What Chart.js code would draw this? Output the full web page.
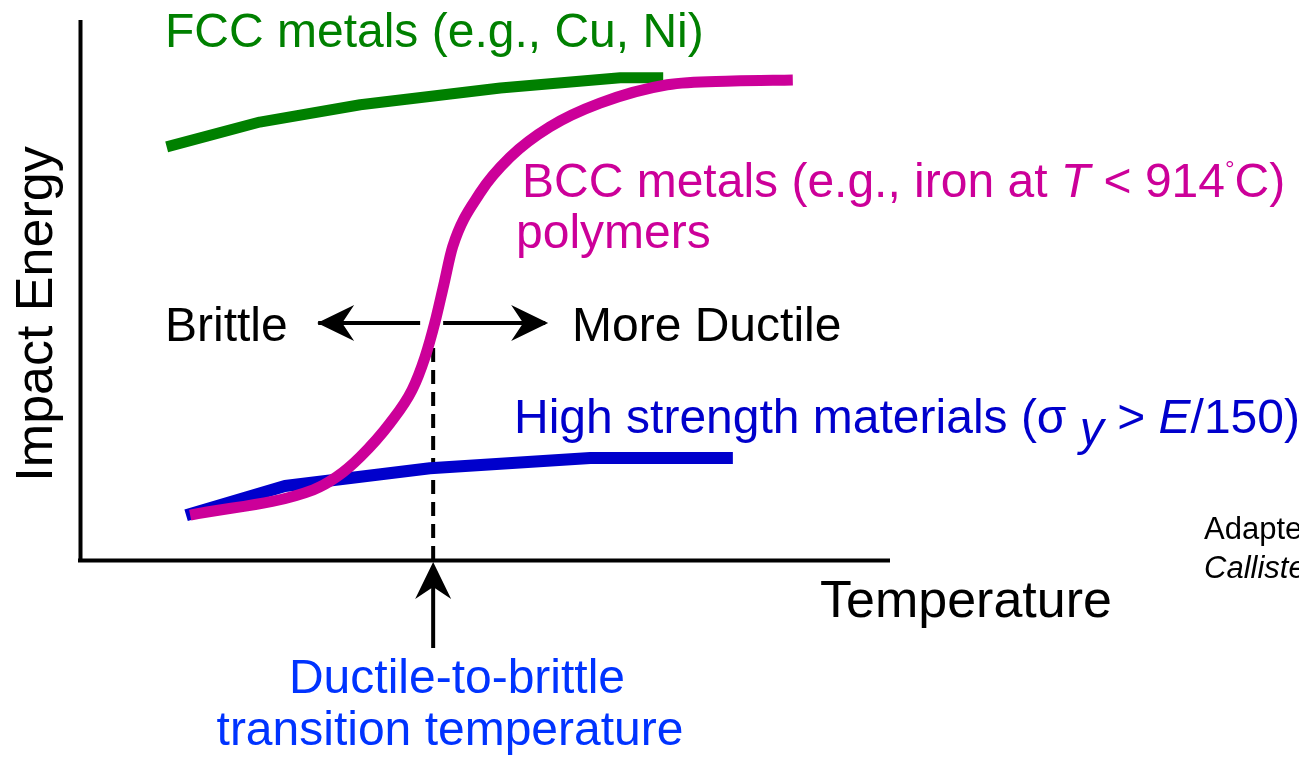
<!DOCTYPE html>
<html>
<head>
<meta charset="utf-8">
<script src="https://cdn.jsdelivr.net/npm/chart.js@4"></script>
<style>
  html, body { margin: 0; padding: 0; background: #fff; }
  #wrap { width: 1299px; height: 757px; }
</style>
</head>
<body>
<div id="wrap"><canvas id="dbtt-chart" width="1299" height="757"></canvas></div>
<script>
// Ductile-to-brittle transition sketch (arbitrary units, 0..100 on both axes)

// FCC metals curve
const fccTemp   = [10.7, 22.2, 34.6, 51.9, 66.7, 72.0];
const fccEnergy = [76.5, 81.1, 84.3, 87.4, 89.3, 89.3];

// BCC metals / polymers curve
const bccTemp   = [13.6, 28.8, 31.7, 34.6, 38.3, 41.0, 42.6, 43.8, 44.9, 46.0, 49.4, 53.1, 58.0, 64.2, 72.5, 80.6, 88.0];
const bccEnergy = [8.3, 13.0, 15.4, 19.1, 25.4, 31.5, 37.6, 43.9, 50.9, 58.0, 68.0, 74.6, 80.2, 84.6, 88.0, 88.7, 88.9];

// High strength materials curve
const hsTemp   = [13.1, 25.3, 43.2, 63.0, 80.6];
const hsEnergy = [8.3, 13.7, 17.0, 18.9, 18.9];

// transition temperature marker
const transitionTemp = 43.6;
const transitionEnergy = 43.9;

const FONT = '"Liberation Sans", Arial, Helvetica, sans-serif';

function toPoints(xs, ys) {
  return xs.map((x, i) => ({ x: x, y: ys[i] }));
}

// draws a run of text pieces (normal / italic / shifted)
function drawRuns(ctx, x, y, runs, color) {
  ctx.fillStyle = color;
  ctx.textBaseline = 'alphabetic';
  ctx.textAlign = 'left';
  for (let r of runs) {
    ctx.font = (r.italic ? 'italic ' : '') + (r.size || 48) + 'px ' + FONT;
    ctx.fillText(r.t, x, y + (r.dy || 0));
    x += ctx.measureText(r.t).width;
  }
}

// notched arrow head, tip at (tx,ty) pointing along angle
function arrowHead(ctx, tx, ty, angle) {
  ctx.save();
  ctx.translate(tx, ty);
  ctx.rotate(angle);
  ctx.beginPath();
  ctx.moveTo(0, 0);
  ctx.lineTo(-37, -18);
  ctx.lineTo(-25, 0);
  ctx.lineTo(-37, 18);
  ctx.closePath();
  ctx.fill();
  ctx.restore();
}

const sketchPlugin = {
  id: 'sketch',
  beforeDatasetsDraw(chart) {
    const ctx = chart.ctx;
    const a = chart.chartArea;
    ctx.save();
    ctx.strokeStyle = '#000';
    ctx.lineWidth = 4;
    ctx.beginPath();
    ctx.moveTo(a.left + 0.5, a.top);
    ctx.lineTo(a.left + 0.5, a.bottom + 2);
    ctx.moveTo(a.left - 2, a.bottom + 0.5);
    ctx.lineTo(a.right, a.bottom + 0.5);
    ctx.stroke();
    ctx.restore();
  },
  afterDatasetsDraw(chart) {
    const ctx = chart.ctx;
    const xs = chart.scales.x, ys = chart.scales.y;
    const tx = xs.getPixelForValue(transitionTemp);
    const ay = ys.getPixelForValue(transitionEnergy);
    const base = ys.getPixelForValue(0);
    ctx.save();
    ctx.fillStyle = '#000';
    ctx.strokeStyle = '#000';
    ctx.lineWidth = 4;

    // Brittle <-> More Ductile arrows
    ctx.beginPath();
    ctx.moveTo(tx - 115, ay); ctx.lineTo(tx - 13, ay);
    ctx.moveTo(tx + 10, ay); ctx.lineTo(tx + 112, ay);
    ctx.stroke();
    arrowHead(ctx, tx - 116, ay, Math.PI);
    arrowHead(ctx, tx + 115, ay, 0);

    // arrow up to the transition temperature
    ctx.beginPath();
    ctx.moveTo(tx, base + 20); ctx.lineTo(tx, base + 88);
    ctx.stroke();
    arrowHead(ctx, tx, base + 2, -Math.PI / 2);

    // labels
    drawRuns(ctx, 165, 47, [{ t: 'FCC metals (e.g., Cu, Ni)' }], '#008000');
    drawRuns(ctx, 522, 197, [
      { t: 'BCC metals (e.g., iron at ' }, { t: 'T', italic: true },
      { t: ' < 914' }, { t: '°', size: 24, dy: -20 }, { t: 'C)' }
    ], '#cc0099');
    drawRuns(ctx, 516, 248, [{ t: 'polymers' }], '#cc0099');
    drawRuns(ctx, 165, 341, [{ t: 'Brittle' }], '#000');
    drawRuns(ctx, 572, 341, [{ t: 'More Ductile' }], '#000');
    drawRuns(ctx, 514, 433, [
      { t: 'High strength materials (σ ' }, { t: 'y', italic: true, dy: 12 },
      { t: ' > ' }, { t: 'E', italic: true }, { t: '/150)' }
    ], '#0000cc');
    drawRuns(ctx, 820, 617, [{ t: 'Temperature', size: 52 }], '#000');
    ctx.textAlign = 'center';
    ctx.fillStyle = '#0033ff';
    ctx.font = '48px ' + FONT;
    ctx.fillText('Ductile-to-brittle', 457, 693);
    ctx.fillText('transition temperature', 450, 745);

    // small credit, cut by the right edge
    ctx.textAlign = 'left';
    ctx.fillStyle = '#000';
    ctx.font = '31px ' + FONT;
    ctx.fillText('Adapted from Fig. 8.15,', 1204, 539);
    ctx.font = 'italic 31px ' + FONT;
    ctx.fillText('Callister 7e.', 1204, 578);

    // y axis title
    ctx.save();
    ctx.translate(52, 314);
    ctx.rotate(-Math.PI / 2);
    ctx.textAlign = 'center';
    ctx.font = '52px ' + FONT;
    ctx.fillText('Impact Energy', 0, 0);
    ctx.restore();

    ctx.restore();
  }
};

var dbttChart = new Chart(document.getElementById('dbtt-chart').getContext('2d'), {
  type: 'line',
  data: {
    datasets: [
      {
        label: 'BCC metals / polymers',
        data: toPoints(bccTemp, bccEnergy),
        borderColor: '#cc0099',
        borderWidth: 11,
        cubicInterpolationMode: 'monotone',
        borderCapStyle: 'butt',
        order: 0
      },
      {
        label: 'FCC metals',
        data: toPoints(fccTemp, fccEnergy),
        borderColor: '#008000',
        borderWidth: 11,
        tension: 0,
        borderCapStyle: 'butt',
        order: 1
      },
      {
        label: 'High strength materials',
        data: toPoints(hsTemp, hsEnergy),
        borderColor: '#0000cc',
        borderWidth: 12,
        tension: 0,
        borderCapStyle: 'butt',
        order: 1
      },
      {
        label: 'Transition',
        data: [{ x: transitionTemp, y: 0 }, { x: transitionTemp, y: transitionEnergy - 1 }],
        borderColor: '#000',
        borderWidth: 4,
        borderDash: [14, 8],
        order: 2
      }
    ]
  },
  options: {
    responsive: false,
    animation: false,
    events: [],
    clip: false,
    layout: { padding: { left: 80, right: 409, top: 20, bottom: 197 } },
    elements: { point: { radius: 0 }, line: { fill: false, borderJoinStyle: 'round' } },
    scales: {
      x: { type: 'linear', min: 0, max: 100, display: false },
      y: { type: 'linear', min: 0, max: 100, display: false }
    },
    plugins: { legend: { display: false }, tooltip: { enabled: false } }
  },
  plugins: [sketchPlugin]
});
</script>
</body>
</html>
